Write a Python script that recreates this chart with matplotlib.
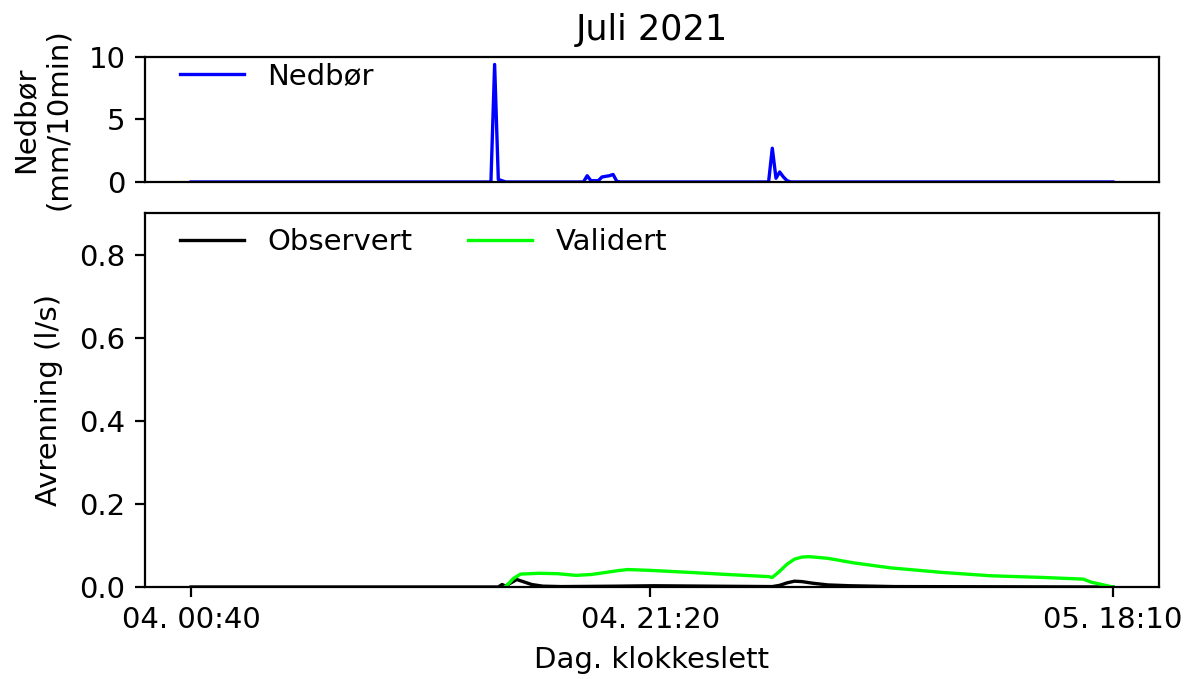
import matplotlib
matplotlib.use("Agg")
import matplotlib.pyplot as plt

plt.rcParams["font.size"] = 10.5

# 10-minute steps from 04. 00:40 to 05. 18:10 (index 0..249)
tick_pos = [0, 124, 249]
tick_labels = ["04. 00:40", "04. 21:20", "05. 18:10"]

# precipitation (mm/10min), read at sample indices
rain_idx = [0, 81, 82, 83, 84, 85, 106, 107, 108, 110, 111, 112, 113, 114, 115, 116,
            156, 157, 158, 159, 160, 161, 162, 249]
rain_val = [0.0, 0.0, 9.4, 0.2, 0.1, 0.0, 0.0, 0.5, 0.1, 0.1, 0.4, 0.45, 0.5, 0.6, 0.05, 0.0,
            0.0, 2.7, 0.3, 0.8, 0.4, 0.1, 0.0, 0.0]

# runoff (l/s)
obs_idx = [0, 83, 84, 85, 86, 88, 90, 92, 95, 100, 115, 125, 140, 157, 159, 161, 163,
           165, 168, 172, 178, 190, 249]
obs_val = [0.0, 0.0, 0.006, 0.002, 0.008, 0.018, 0.012, 0.006, 0.002, 0.001, 0.002, 0.003,
           0.002, 0.001, 0.004, 0.010, 0.014, 0.013, 0.009, 0.005, 0.003, 0.001, 0.0]

val_idx = [85, 86, 87, 89, 94, 99, 104, 108, 112, 115, 118, 124, 135, 145, 156, 157, 159,
           161, 163, 165, 167, 172, 179, 189, 203, 216, 230, 241, 243, 246, 249]
val_val = [0.002, 0.01, 0.02, 0.031, 0.033, 0.032, 0.028, 0.030, 0.035, 0.039, 0.042, 0.040,
           0.035, 0.030, 0.025, 0.023, 0.038, 0.055, 0.067, 0.072, 0.073, 0.069, 0.058,
           0.046, 0.035, 0.027, 0.023, 0.019, 0.012, 0.006, 0.0]

fig = plt.figure(figsize=(5.96, 3.395), dpi=200)
ax1 = fig.add_axes([0.1216, 0.732, 0.8507, 0.1841])
ax2 = fig.add_axes([0.1216, 0.1355, 0.8507, 0.5508], sharex=ax1)

ax1.plot(rain_idx, rain_val, color="blue", lw=1.2, label="Nedbør")
ax1.set_ylim(0, 10)
ax1.set_yticks([0, 5, 10])
ax1.set_ylabel("Nedbør\n(mm/10min)", labelpad=6)
ax1.set_title("Juli 2021", fontsize=12.6)
ax1.tick_params(axis="x", bottom=False, labelbottom=False)
ax1.legend(loc="upper left", frameon=False, borderaxespad=0, handlelength=2.2,
           bbox_to_anchor=(0.023, 1.05))

ax2.plot(obs_idx, obs_val, color="black", lw=1.2, label="Observert")
ax2.plot(val_idx, val_val, color="lime", lw=1.2, label="Validert")
ax2.set_ylim(0, 0.9)
ax2.set_yticks([0.0, 0.2, 0.4, 0.6, 0.8])
ax2.set_ylabel("Avrenning (l/s)", labelpad=6)
ax2.set_xlabel("Dag. klokkeslett")
ax2.set_xticks(tick_pos)
ax2.set_xticklabels(tick_labels)
ax2.legend(loc="upper left", frameon=False, borderaxespad=0, ncol=2, handlelength=2.2,
           columnspacing=1.9, bbox_to_anchor=(0.023, 0.99))

fig.savefig("out.png", dpi=200)
